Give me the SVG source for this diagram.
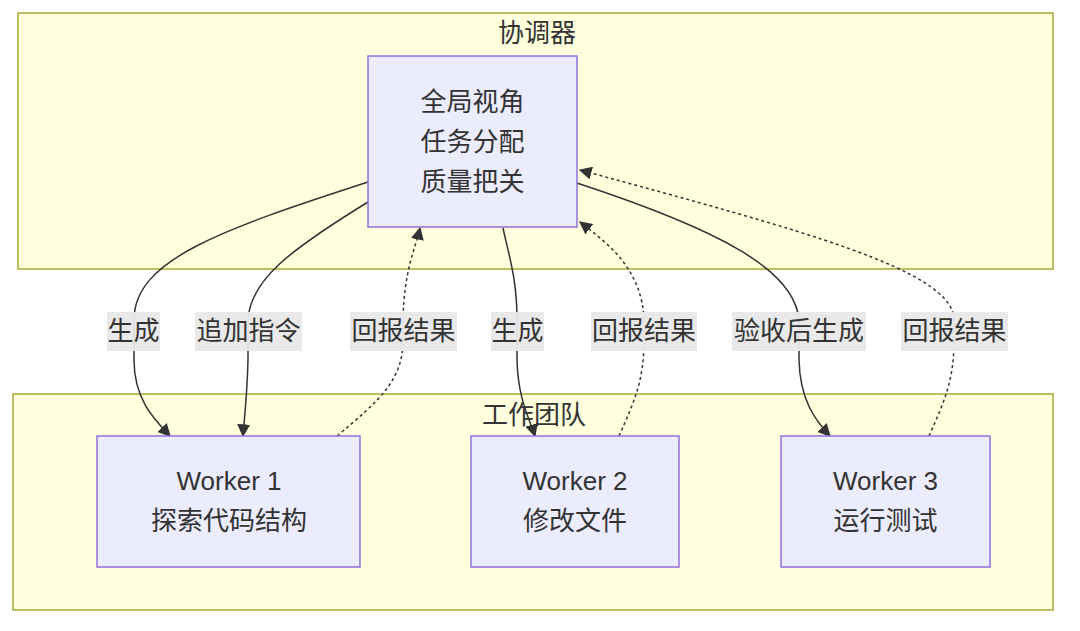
<svg xmlns="http://www.w3.org/2000/svg" width="1080" height="631" viewBox="0 0 1080 631">
<defs>
<style>
.cluster{fill:#ffffde;stroke:#aaaa33;stroke-width:1.5}
.node{fill:#ececff;stroke:#9370db;stroke-width:1.5}
text{font-family:"Liberation Sans","Noto Sans CJK SC",sans-serif;font-size:26px;fill:#333333;text-anchor:middle;dominant-baseline:central}
.edge{fill:none;stroke:#333333;stroke-width:1.5}
.dotted{stroke-dasharray:3 3}
.lbl{fill:#e8e8e8;opacity:0.95}
</style>
<marker id="arrow" viewBox="0 0 10 10" refX="9" refY="5" markerWidth="13" markerHeight="13" markerUnits="userSpaceOnUse" orient="auto">
<path d="M0,0 L10,5 L0,10 z" fill="#333333"/>
</marker>
</defs>
<rect width="1080" height="631" fill="#ffffff"/>
<g id="cluster-coordinator">
<rect class="cluster" x="18" y="13" width="1035" height="256"/>
<text x="537" y="33">协调器</text>
</g>
<g id="cluster-team">
<rect class="cluster" x="13" y="394" width="1040" height="216"/>
<text x="534" y="415">工作团队</text>
</g>
<g id="connectors">
<path class="edge" d="M368,182 C220,230 134,260 134,320 L134,360 C134,400 155,420 170,436" marker-end="url(#arrow)"/>
<path class="edge" d="M368,202 C290,250 250,280 248,320 L248,360 C247,400 244,420 243,436" marker-end="url(#arrow)"/>
<path class="edge dotted" d="M337,436 C380,400 403,380 403,340 L403,320 C404,270 415,250 420,228" marker-end="url(#arrow)"/>
<path class="edge" d="M503,228 C510,260 517,280 517,320 L517,360 C518,400 530,420 535,436" marker-end="url(#arrow)"/>
<path class="edge dotted" d="M619,436 C635,400 644,380 644,340 L644,320 C642,270 610,245 580,222" marker-end="url(#arrow)"/>
<path class="edge" d="M577,183 C720,230 795,270 799,320 L799,360 C800,400 815,420 830,436" marker-end="url(#arrow)"/>
<path class="edge dotted" d="M929,436 C945,400 954,380 954,340 L954,320 C954,270 800,230 580,170" marker-end="url(#arrow)"/>
</g>
<g id="edge-labels">
<g id="label-1"><rect class="lbl" x="107" y="312" width="53" height="39"/><text x="133.5" y="331">生成</text></g>
<g id="label-2"><rect class="lbl" x="195" y="312" width="107" height="39"/><text x="248.5" y="331">追加指令</text></g>
<g id="label-3"><rect class="lbl" x="350" y="312" width="107" height="39"/><text x="403.5" y="331">回报结果</text></g>
<g id="label-4"><rect class="lbl" x="491" y="312" width="53" height="39"/><text x="517.5" y="331">生成</text></g>
<g id="label-5"><rect class="lbl" x="591" y="312" width="106" height="39"/><text x="644" y="331">回报结果</text></g>
<g id="label-6"><rect class="lbl" x="732" y="312" width="134" height="39"/><text x="799" y="331">验收后生成</text></g>
<g id="label-7"><rect class="lbl" x="901" y="312" width="107" height="39"/><text x="954.5" y="331">回报结果</text></g>
</g>
<g id="coordinator">
<rect class="node" x="368" y="56" width="209" height="171"/>
<text x="472.5" y="102">全局视角</text>
<text x="472.5" y="142">任务分配</text>
<text x="472.5" y="182">质量把关</text>
</g>
<g id="worker1">
<rect class="node" x="97" y="436" width="263" height="131"/>
<text x="229" y="481">Worker 1</text>
<text x="229" y="521">探索代码结构</text>
</g>
<g id="worker2">
<rect class="node" x="471" y="436" width="208" height="131"/>
<text x="575" y="481">Worker 2</text>
<text x="575" y="521">修改文件</text>
</g>
<g id="worker3">
<rect class="node" x="781" y="436" width="209" height="131"/>
<text x="885.5" y="481">Worker 3</text>
<text x="885.5" y="521">运行测试</text>
</g>
</svg>
